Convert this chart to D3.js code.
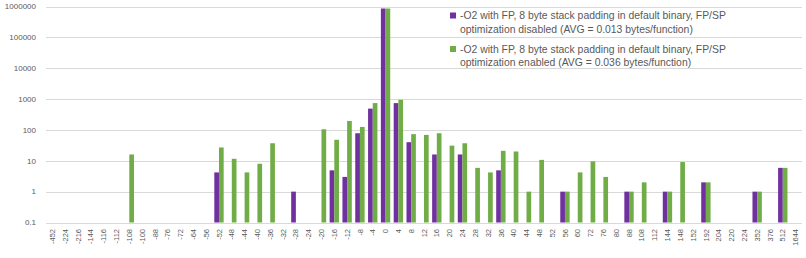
<!DOCTYPE html>
<html>
<head>
<meta charset="utf-8">
<script src="https://cdn.jsdelivr.net/npm/d3@7"></script>
<style>
  body { margin: 0; background: #fff; }
  svg { display: block; font-family: "Liberation Sans", Arial, sans-serif; }
</style>
</head>
<body>
<div id="chart"></div>
<script>
// stack offset buckets (bytes)
const categories = [-452, -224, -216, -144, -116, -112, -108, -100, -88, -76, -72, -64, -56, -52, -48, -44, -40, -36, -32, -28, -24, -20, -16, -12, -8, -4,
  0, 4, 8, 12, 16, 20, 24, 28, 32, 36, 40, 44, 48, 52, 56, 60, 72, 76, 80, 88, 108, 112, 144, 148, 152, 192, 204, 220, 224, 352, 376, 512, 1644];

// FP/SP optimization disabled
const disabled = [null, null, null, null, null, null, null, null, null, null, null, null, null, 4.2, null, null, null, null, null, 1, null, null, 4.9, 3, 78, 490,
  860000, 740, 40, null, 16, null, 16, null, null, 4.9, null, null, null, null, 1, null, null, null, null, 1, null, null, 1, null, null, 2, null, null, null, 1, null, 5.9, null];

// FP/SP optimization enabled
const enabled = [null, null, null, null, null, null, 16, null, null, null, null, null, null, 27, 11.6, 4.2, 8, 37, null, null, null, 105, 48, 195, 125, 740,
  860000, 950, 73, 69, 78, 31, 37, 5.9, 4.2, 21, 20, 1, 10.7, null, 1, 4.2, 9.6, 3, null, 1, 2, null, 1, 9.1, null, 2, null, null, null, 1, null, 5.9, null];

const yTicks = [0.1, 1, 10, 100, 1000, 10000, 100000, 1000000];

const seriesNames = [
  ["-O2 with FP, 8 byte stack padding in default binary, FP/SP", "optimization disabled (AVG = 0.013 bytes/function)"],
  ["-O2 with FP, 8 byte stack padding in default binary, FP/SP", "optimization enabled (AVG = 0.036 bytes/function)"]
];
const colors = ["#7030A0", "#70AD47"];

const width = 806, height = 258;
const svg = d3.select("#chart").append("svg")
  .attr("width", width)
  .attr("height", height);

const x = d3.scaleBand()
  .domain(categories)
  .range([46, 802])
  .paddingInner(0.27)
  .paddingOuter(0.135);

const y = d3.scaleLog()
  .domain([0.1, 1000000])
  .range([222.5, 6.5]);

// gridlines
svg.append("g")
  .selectAll("line")
  .data(yTicks)
  .join("line")
  .attr("x1", 46)
  .attr("x2", 802)
  .attr("y1", d => Math.round(y(d)) + 0.5)
  .attr("y2", d => Math.round(y(d)) + 0.5)
  .attr("stroke", "#d9d9d9")
  .attr("stroke-width", 1);

// y labels
svg.append("g")
  .selectAll("text")
  .data(yTicks)
  .join("text")
  .attr("x", 36)
  .attr("y", d => y(d))
  .attr("dy", "0.35em")
  .attr("text-anchor", "end")
  .attr("font-size", 8)
  .attr("fill", "#595959")
  .text(d => d);

// bars
const sub = d3.scaleBand().domain([0, 1]).range([0, x.bandwidth()]);
[disabled, enabled].forEach((vals, s) => {
  svg.append("g")
    .selectAll("rect")
    .data(categories.map((c, i) => ({ c, v: vals[i] })).filter(d => d.v != null))
    .join("rect")
    .attr("x", d => x(d.c) + sub(s))
    .attr("width", sub.bandwidth())
    .attr("y", d => y(d.v))
    .attr("height", d => y(0.1) - y(d.v))
    .attr("fill", colors[s]);
});

// x labels (rotated)
svg.append("g")
  .selectAll("text")
  .data(categories)
  .join("text")
  .attr("transform", d => `translate(${x(d) + x.bandwidth() / 2},229) rotate(-90)`)
  .attr("dy", "0.35em")
  .attr("text-anchor", "end")
  .attr("font-size", 7.5)
  .attr("fill", "#595959")
  .text(d => d);

// legend
const legend = svg.append("g");
const entryY = [15.5, 49];
seriesNames.forEach((lines, s) => {
  legend.append("rect")
    .attr("x", 450)
    .attr("y", entryY[s] - 3)
    .attr("width", 6)
    .attr("height", 6)
    .attr("fill", colors[s]);
  lines.forEach((t, k) => {
    legend.append("text")
      .attr("x", 460)
      .attr("y", entryY[s] + k * 13.5)
      .attr("dy", "0.35em")
      .attr("font-size", 10.4)
      .attr("fill", "#595959")
      .text(t);
  });
});
</script>
</body>
</html>
